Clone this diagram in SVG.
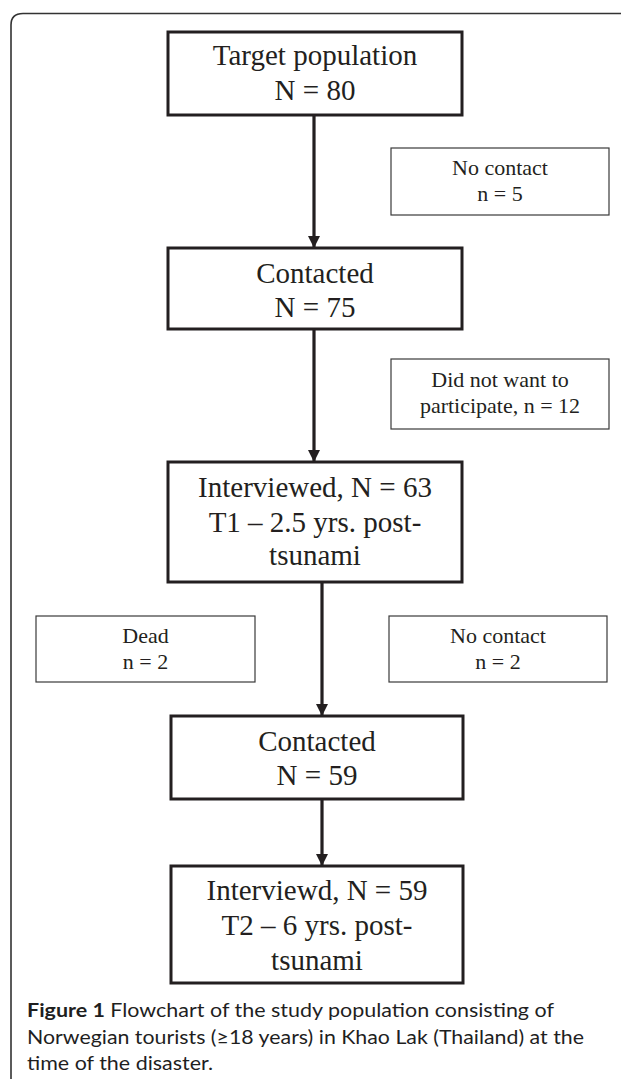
<svg xmlns="http://www.w3.org/2000/svg" width="621" height="1079" viewBox="0 0 621 1079">
<style>
.main{fill:#fff;stroke:#231f20;stroke-width:3}
.side{fill:#fff;stroke:#3a3a3a;stroke-width:1.2}
.t{font-family:"Liberation Serif","Times New Roman",serif;font-size:29px;fill:#231f20;text-anchor:middle}
.s{font-family:"Liberation Serif","Times New Roman",serif;font-size:22px;fill:#231f20;text-anchor:middle}
.cap{font-family:Lato,"Open Sans","Noto Sans",sans-serif;font-size:19.5px;fill:#1f1f1f}
.conn{stroke:#231f20;stroke-width:3.2;fill:none}
</style>
<defs>
<marker id="ah" viewBox="0 0 12 12" refX="12" refY="6" markerWidth="12" markerHeight="12" markerUnits="userSpaceOnUse" orient="auto">
<path d="M0,0 L12,6 L0,12 z" fill="#231f20"/>
</marker>
</defs>
<rect width="621" height="1079" fill="#fff"/>
<path id="frame" d="M11,1079 V25 Q11,13.5 23,13.5 H621" fill="none" stroke="#333" stroke-width="1.6"/>

<g id="connectors">
<line class="conn" x1="314" y1="115" x2="314" y2="248" marker-end="url(#ah)"/>
<line class="conn" x1="314" y1="329" x2="314" y2="462" marker-end="url(#ah)"/>
<line class="conn" x1="322" y1="582" x2="322" y2="716" marker-end="url(#ah)"/>
<line class="conn" x1="322" y1="799" x2="322" y2="866" marker-end="url(#ah)"/>
</g>

<g id="n1">
<rect class="main" x="168" y="32" width="294" height="83"/>
<text class="t" x="315" y="65">Target population</text>
<text class="t" x="315" y="100">N = 80</text>
</g>
<g id="s1">
<rect class="side" x="391" y="148" width="218" height="67"/>
<text class="s" x="500" y="175">No contact</text>
<text class="s" x="500" y="201">n = 5</text>
</g>
<g id="n2">
<rect class="main" x="168" y="248" width="294" height="81"/>
<text class="t" x="315" y="283">Contacted</text>
<text class="t" x="315" y="317">N = 75</text>
</g>
<g id="s2">
<rect class="side" x="391" y="359" width="218" height="70"/>
<text class="s" x="500" y="387">Did not want to</text>
<text class="s" x="500" y="413">participate, n = 12</text>
</g>
<g id="n3">
<rect class="main" x="168" y="462" width="294" height="120"/>
<text class="t" x="315" y="497">Interviewed, N = 63</text>
<text class="t" x="315" y="532">T1 – 2.5 yrs. post-</text>
<text class="t" x="315" y="565">tsunami</text>
</g>
<g id="s3">
<rect class="side" x="36" y="616" width="219" height="66"/>
<text class="s" x="145.5" y="643">Dead</text>
<text class="s" x="145.5" y="669">n = 2</text>
</g>
<g id="s4">
<rect class="side" x="389" y="616" width="218" height="66"/>
<text class="s" x="498" y="643">No contact</text>
<text class="s" x="498" y="669">n = 2</text>
</g>
<g id="n4">
<rect class="main" x="171" y="716" width="292" height="83"/>
<text class="t" x="317" y="751">Contacted</text>
<text class="t" x="317" y="785">N = 59</text>
</g>
<g id="n5">
<rect class="main" x="171" y="866" width="292" height="117"/>
<text class="t" x="317" y="900">Interviewd, N = 59</text>
<text class="t" x="317" y="935">T2 – 6 yrs. post-</text>
<text class="t" x="317" y="970">tsunami</text>
</g>

<g id="caption">
<text class="cap" x="27" y="1017" textLength="527" lengthAdjust="spacingAndGlyphs"><tspan font-weight="bold">Figure 1</tspan> Flowchart of the study population consisting of</text>
<text class="cap" x="27" y="1044" textLength="557" lengthAdjust="spacingAndGlyphs">Norwegian tourists (≥18 years) in Khao Lak (Thailand) at the</text>
<text class="cap" x="27" y="1070" textLength="186" lengthAdjust="spacingAndGlyphs">time of the disaster.</text>
</g>
</svg>
